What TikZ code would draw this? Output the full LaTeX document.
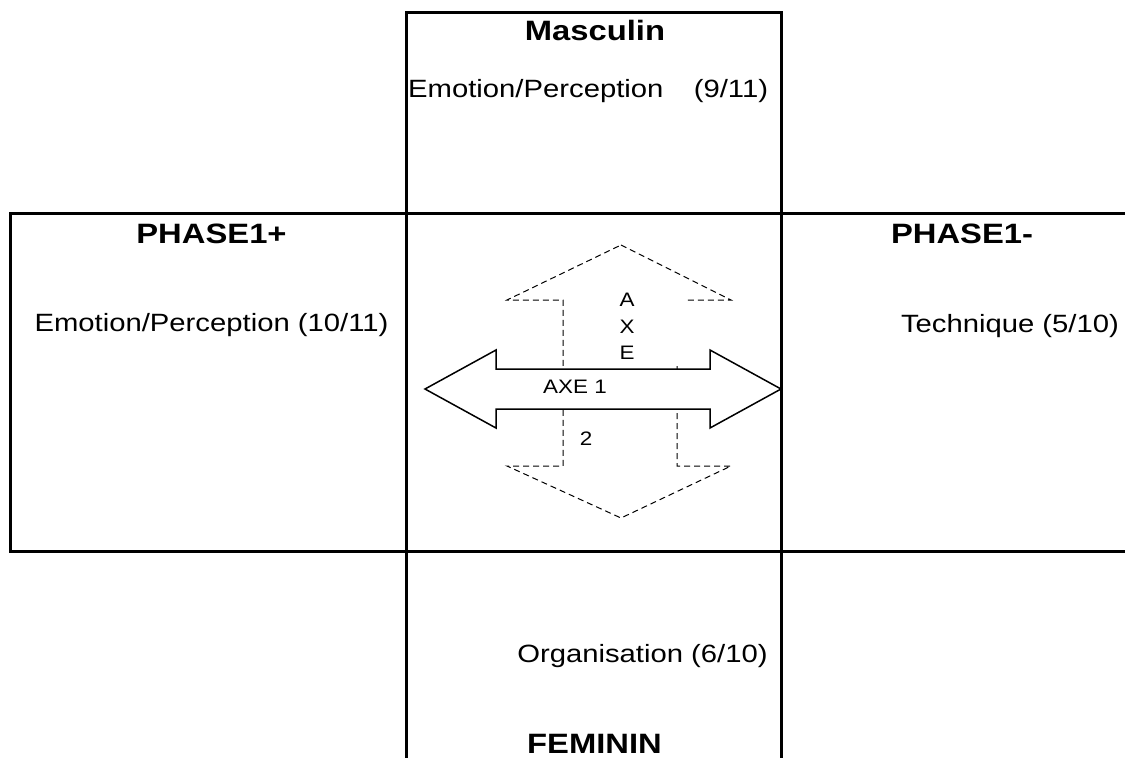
\documentclass[tikz,border=0pt]{standalone}
\usepackage{fontspec}
\usepackage{graphicx}
\setmainfont{Liberation Sans}
\newcommand\rtxt[1]{\scalebox{1.17}[1]{\fontsize{25}{29}\selectfont #1}}
\newcommand\hdtxt[1]{\scalebox{1.17}[1]{\fontsize{28}{32}\selectfont\bfseries #1}}
\newcommand\smtxt[1]{\scalebox{1.15}[1]{\fontsize{19.5}{22}\selectfont #1}}
\begin{document}
\begin{tikzpicture}[x=1pt,y=-1pt,
  frame/.style={line width=3pt, line join=miter},
  dasharrow/.style={line width=1pt, dash pattern=on 6pt off 4pt},
  solidarrow/.style={line width=1.5pt, fill=white, line join=miter},
  lbl/.style={inner sep=0pt, anchor=base}]
\useasboundingbox (0,0) rectangle (1125,758);
% cross frame
\draw[frame] (406,758) -- (406,12) -- (781,12) -- (781,758);
\draw[frame] (1125,213) -- (10,213) -- (10,551) -- (1125,551);
% dashed vertical double arrow (axe 2)
\draw[dasharrow] (621,245) -- (731,300) -- (677,300) -- (677,466) -- (731,466)
  -- (621,518) -- (507,466) -- (563,466) -- (563,300) -- (507,300) -- cycle;
\fill[white] (566,289) rectangle (686,366);
\node[lbl] (a2a) at (627,306) {\smtxt{A}};
\node[lbl] (a2x) at (627,333) {\smtxt{X}};
\node[lbl] (a2e) at (627,359) {\smtxt{E}};
\node[lbl] (a2n) at (586,445) {\smtxt{2}};
% solid horizontal double arrow (axe 1)
\draw[solidarrow] (425,389) -- (496,350) -- (496,369) -- (710,369) -- (710,350)
  -- (781,389) -- (710,428) -- (710,409) -- (496,409) -- (496,428) -- cycle;
\node[lbl] (axe1) at (575,393) {\smtxt{AXE 1}};
% texts
\node[lbl] (masc) at (595,40) {\hdtxt{Masculin}};
\node[lbl, anchor=base west] (mascemo) at (408,97) {\rtxt{Emotion/Perception\hspace{19pt} (9/11)}};
\node[lbl] (ph1p) at (211.5,243) {\hdtxt{PHASE1+}};
\node[lbl] (ph1pemo) at (211.5,331) {\rtxt{Emotion/Perception (10/11)}};
\node[lbl] (ph1m) at (962,243) {\hdtxt{PHASE1-}};
\node[lbl] (ph1mtech) at (1010,332) {\rtxt{Technique (5/10)}};
\node[lbl] (femorg) at (642.5,662) {\rtxt{Organisation (6/10)}};
\node[lbl] (fem) at (594.5,753) {\hdtxt{FEMININ}};
\end{tikzpicture}
\end{document}
